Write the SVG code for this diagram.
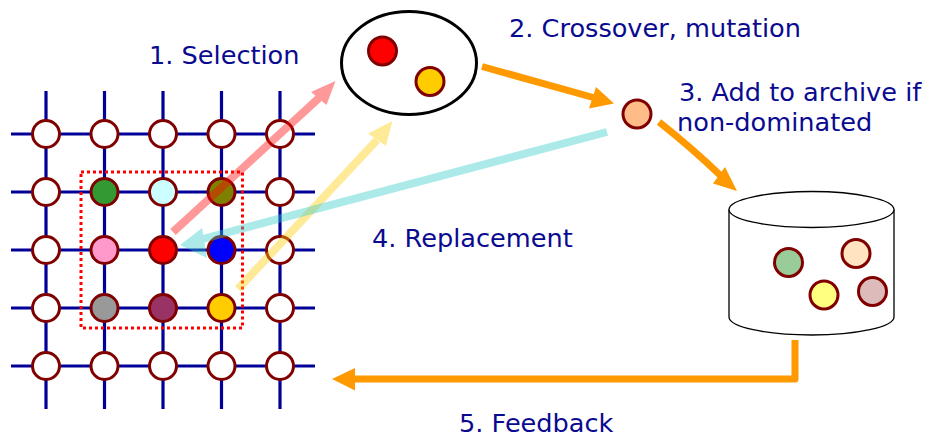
<svg xmlns="http://www.w3.org/2000/svg" width="931" height="440" viewBox="0 0 931 440">
  <style>
    .wire { stroke: #000099; stroke-width: 3.2; fill: none; }
    .cell { stroke: #800000; stroke-width: 3; }
    .label { font-family: "DejaVu Sans", Verdana, sans-serif; font-size: 25.6px; fill: #0a0a90; }
    .flow { stroke: #FF9900; stroke-width: 7; fill: none; stroke-linejoin: round; }
    .flowhead { fill: #FF9900; }
  </style>

  <!-- Cellular population grid -->
  <g id="grid">
    <g class="wire">
      <line x1="11" y1="134" x2="315" y2="134"/>
      <line x1="11" y1="192" x2="315" y2="192"/>
      <line x1="11" y1="250" x2="315" y2="250"/>
      <line x1="11" y1="308" x2="315" y2="308"/>
      <line x1="11" y1="366" x2="315" y2="366"/>
      <line x1="46" y1="91" x2="46" y2="409"/>
      <line x1="104.5" y1="91" x2="104.5" y2="409"/>
      <line x1="163" y1="91" x2="163" y2="409"/>
      <line x1="221.5" y1="91" x2="221.5" y2="409"/>
      <line x1="280" y1="91" x2="280" y2="409"/>
    </g>
    <g class="cell" fill="#ffffff">
      <circle cx="46" cy="134" r="13.5"/>
      <circle cx="104.5" cy="134" r="13.5"/>
      <circle cx="163" cy="134" r="13.5"/>
      <circle cx="221.5" cy="134" r="13.5"/>
      <circle cx="280" cy="134" r="13.5"/>
      <circle cx="46" cy="192" r="13.5"/>
      <circle cx="280" cy="192" r="13.5"/>
      <circle cx="46" cy="250" r="13.5"/>
      <circle cx="280" cy="250" r="13.5"/>
      <circle cx="46" cy="308" r="13.5"/>
      <circle cx="280" cy="308" r="13.5"/>
      <circle cx="46" cy="366" r="13.5"/>
      <circle cx="104.5" cy="366" r="13.5"/>
      <circle cx="163" cy="366" r="13.5"/>
      <circle cx="221.5" cy="366" r="13.5"/>
      <circle cx="280" cy="366" r="13.5"/>
    </g>
    <!-- neighbourhood of the centre cell -->
    <g class="cell">
      <circle cx="104.5" cy="192" r="13.5" fill="#339933"/>
      <circle cx="163" cy="192" r="13.5" fill="#CCFFFF"/>
      <circle cx="221.5" cy="192" r="13.5" fill="#808000"/>
      <circle cx="104.5" cy="250" r="13.5" fill="#FF99CC"/>
      <circle cx="163" cy="250" r="13.5" fill="#FF0000"/>
      <circle cx="221.5" cy="250" r="13.5" fill="#0000FF"/>
      <circle cx="104.5" cy="308" r="13.5" fill="#999999"/>
      <circle cx="163" cy="308" r="13.5" fill="#993366"/>
      <circle cx="221.5" cy="308" r="13.5" fill="#FFCC00"/>
    </g>
    <rect x="81" y="172" width="161.5" height="156" fill="none" stroke="#FF0000" stroke-width="3" stroke-dasharray="3 3"/>
  </g>

  <!-- Selected parents -->
  <g id="parents">
    <ellipse cx="409" cy="63" rx="67.5" ry="51.5" fill="#ffffff" stroke="#000000" stroke-width="3"/>
    <circle class="cell" cx="382.5" cy="51" r="14" fill="#FF0000"/>
    <circle class="cell" cx="430" cy="81.5" r="14" fill="#FFCC00"/>
  </g>

  <!-- Offspring -->
  <g id="offspring">
    <circle class="cell" cx="637" cy="114" r="14" fill="#FFBB88"/>
  </g>

  <!-- Archive -->
  <g id="archive">
    <path d="M729,209.5 L729,317 A82.5,18 0 0 0 894,317 L894,209.5" fill="#ffffff" stroke="#000000" stroke-width="1.3"/>
    <ellipse cx="811.5" cy="209.5" rx="82.5" ry="18" fill="#ffffff" stroke="#000000" stroke-width="1.3"/>
    <circle class="cell" cx="788.5" cy="262.5" r="14" fill="#99CC99"/>
    <circle class="cell" cx="856" cy="253.5" r="14" fill="#FFE4BF"/>
    <circle class="cell" cx="824" cy="295" r="14" fill="#FFFF80"/>
    <circle class="cell" cx="872.5" cy="291.5" r="14" fill="#DDBBBB"/>
  </g>

  <!-- Connectors -->
  <g id="connectors">
    <!-- 1. selection -->
    <g opacity="0.4">
      <line x1="173" y1="232" x2="319" y2="98" stroke="#FF0000" stroke-width="8"/>
      <polygon points="335.5,81 311,92 326.5,105" fill="#FF0000"/>
    </g>
    <g opacity="0.4">
      <line x1="238" y1="289" x2="377" y2="140" stroke="#FFCC00" stroke-width="8"/>
      <polygon points="392.5,121 368,133.5 386,146" fill="#FFCC00"/>
    </g>
    <!-- 2. crossover, mutation -->
    <line class="flow" x1="482" y1="66.5" x2="595" y2="98"/>
    <polygon class="flowhead" points="614,103.5 596,87 589,108.5"/>
    <!-- 3. add to archive -->
    <path class="flow" d="M659,122 Q692,148 721,176"/>
    <polygon class="flowhead" points="737,191 713,183.5 725,167"/>
    <!-- 4. replacement -->
    <g opacity="0.4">
      <line x1="607" y1="132" x2="199" y2="240" stroke="#33CCCC" stroke-width="8"/>
      <polygon points="180,245 202,228 207,258" fill="#33CCCC"/>
    </g>
    <!-- 5. feedback -->
    <path class="flow" d="M795,340 L795,379 L352,379"/>
    <polygon class="flowhead" points="332,379 355,368 355,390.5"/>
  </g>

  <!-- Step labels -->
  <g id="labels">
    <text class="label" x="149" y="64">1. Selection</text>
    <text class="label" x="509" y="37">2. Crossover, mutation</text>
    <text class="label" x="679" y="101">3. Add to archive if</text>
    <text class="label" x="677" y="131">non-dominated</text>
    <text class="label" x="372" y="247">4. Replacement</text>
    <text class="label" x="459" y="432">5. Feedback</text>
  </g>
</svg>
